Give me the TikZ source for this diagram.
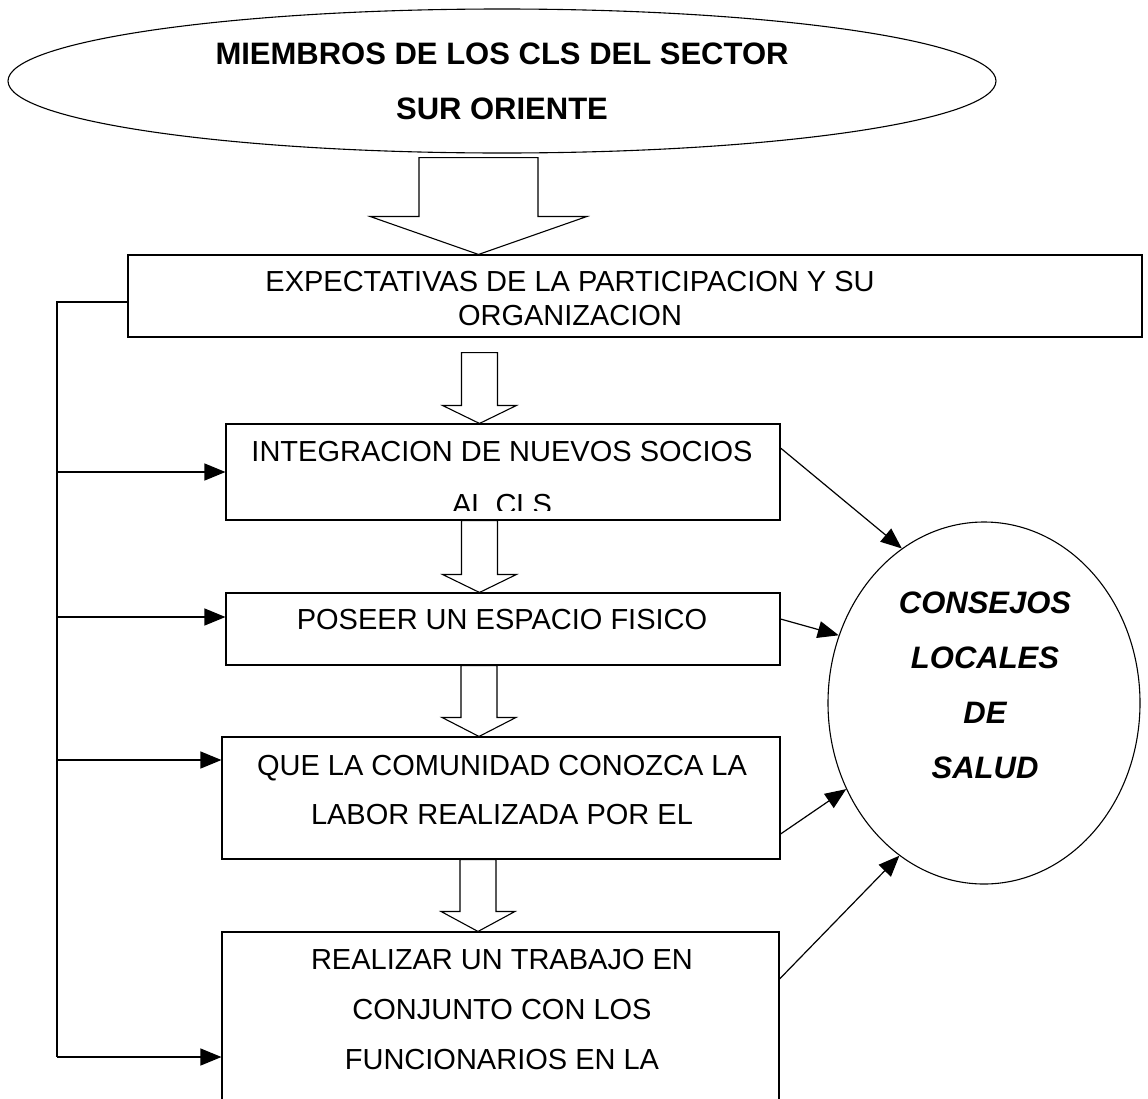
\documentclass[tikz,border=0pt]{standalone}
\usepackage{fontspec}
\setmainfont{Liberation Sans}
\usepackage{tikz}
\usetikzlibrary{shapes.geometric, arrows.meta, calc}

% hollow block arrow: from, to, x, half shaft, half head, head length
\newcommand{\blockarrow}[6]{%
  \draw[blockline] let \p1=(#1), \p2=(#2) in
    (#3pt-#4pt,\y1) -- (#3pt-#4pt,\y2+#6pt) -- (#3pt-#5pt,\y2+#6pt) -- (#3pt,\y2)
    -- (#3pt+#5pt,\y2+#6pt) -- (#3pt+#4pt,\y2+#6pt) -- (#3pt+#4pt,\y1) -- cycle;}

\begin{document}
\begin{tikzpicture}[
        x=1pt, y=-1pt,
        box/.style={draw, rectangle, inner sep=0pt, line width=1.1pt},
        boxtxt/.style={align=center, inner sep=0pt, font=\fontsize{29}{50}\selectfont},
        bigtxt/.style={align=center, inner sep=0pt, font=\fontsize{31}{55}\selectfont\bfseries},
        arr/.style={-{Triangle[length=21pt,width=17pt]}, line width=1.2pt},
        link/.style={line width=1.1pt},
        blockline/.style={draw, fill=white, line width=1.1pt}
    ]
    \clip (0,0) rectangle (1148,1098);

    % Top ellipse
    \node[draw, ellipse, line width=1.1pt, inner sep=0pt, minimum width=988pt, minimum height=144pt,
          bigtxt] (miembros) at (502,81) {MIEMBROS DE LOS CLS DEL SECTOR\\SUR ORIENTE};

    % Boxes
    \node[box, minimum width=1014pt, minimum height=82pt] (e1) at (635,296) {};
    \node[boxtxt, font=\fontsize{29}{34}\selectfont] (e1t) at (570,299) {EXPECTATIVAS DE LA PARTICIPACION Y SU\\ORGANIZACION};

    \node[box, minimum width=554pt, minimum height=96pt] (e2) at (503,472) {};
    \begin{scope}
        \clip (e2.north west) rectangle ([yshift=10pt]e2.south east);
        \node[boxtxt, font=\fontsize{29}{53}\selectfont] (e2t) at (502,478) {INTEGRACION DE NUEVOS SOCIOS\\AL CLS};
    \end{scope}

    \node[box, minimum width=554pt, minimum height=72pt] (e3) at (503,629) {};
    \node[boxtxt] (e3t) at (502,620) {POSEER UN ESPACIO FISICO};

    \node[box, minimum width=558pt, minimum height=122pt] (e4) at (501,798) {};
    \node[boxtxt, font=\fontsize{29}{49}\selectfont] (e4t) at (502,790) {QUE LA COMUNIDAD CONOZCA LA\\LABOR REALIZADA POR EL};

    \node[box, minimum width=557pt, minimum height=188pt] (e5) at (500.5,1026) {};
    \node[boxtxt] (e5t) at (502,1010) {REALIZAR UN TRABAJO EN\\CONJUNTO CON LOS\\FUNCIONARIOS EN LA};

    % Right ellipse
    \node[draw, ellipse, line width=1.1pt, inner sep=0pt, minimum width=312pt, minimum height=362pt] (cls) at (984,703) {};
    \node[bigtxt, font=\fontsize{31}{55}\selectfont\bfseries\itshape] (clst) at (985,685) {CONSEJOS\\LOCALES\\DE\\SALUD};

    % Block arrows
    \blockarrow{[yshift=-4pt]miembros.south}{e1.north}{478.5}{59.5}{108.5}{38}
    \blockarrow{[yshift=-15pt]e1.south}{e2.north}{479.5}{18}{37}{18}
    \blockarrow{e2.south}{e3.north}{479.5}{18}{37}{18}
    \blockarrow{e3.south}{e4.north}{479}{18}{37}{19}
    \blockarrow{e4.south}{e5.north}{478}{18}{37}{20}

    % Left bus
    \coordinate (bustop) at (57,302);
    \coordinate (busbot) at (57,1057);
    \draw[link] ([yshift=-6pt]e1.west) -- (bustop) -- (busbot);

    \coordinate (in2) at (e2.west);
    \coordinate (in3) at ([yshift=12pt]e3.west);
    \coordinate (in4) at ([yshift=38pt]e4.west);
    \coordinate (in5) at ([yshift=-31pt]e5.west);
    \draw[arr] (bustop |- in2) -- (in2);
    \draw[arr] (bustop |- in3) -- (in3);
    \draw[arr] (bustop |- in4) -- (in4);
    \draw[arr] (bustop |- in5) -- (in5);

    % Arrows to the council
    \draw[arr] ([yshift=24pt]e2.east) -- (cls.118);
    \draw[arr] ([yshift=10pt]e3.east) -- (cls.155);
    \draw[arr] ([yshift=-36pt]e4.east) -- (cls.212);
    \draw[arr] ([yshift=47pt]e5.east) -- (cls.241);

\end{tikzpicture}
\end{document}
